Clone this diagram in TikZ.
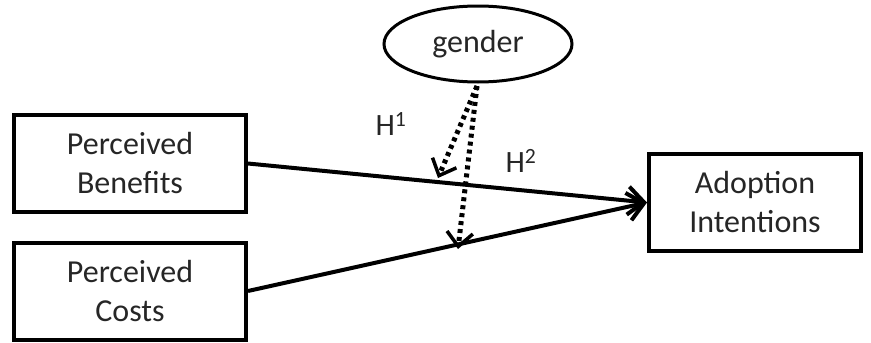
\documentclass[tikz,border=0pt]{standalone}
\usepackage{fontspec}
\setmainfont{Carlito}
\usetikzlibrary{arrows.meta,shapes.geometric}
\begin{document}
\begin{tikzpicture}[x=1pt,y=-1pt,
  box/.style={draw,line width=4pt,minimum width=232pt,minimum height=97pt,align=center,font=\fontsize{32}{39}\selectfont,inner sep=0pt,text=black!85},
  oval/.style={draw,line width=3pt,ellipse,minimum width=188pt,minimum height=76pt,inner sep=0pt,font=\fontsize{32}{38}\selectfont,text=black!85},
  main/.style={line width=4pt,-{Straight Barb[length=16pt,width=28pt,line width=4pt]}},
  mod/.style={line width=5pt,dash pattern=on 4pt off 4pt,-{Straight Barb[length=14pt,width=26pt,line width=3.5pt]}},
  lab/.style={font=\fontsize{31}{36}\selectfont,inner sep=0pt,text=black!85}]
\useasboundingbox (0,0) rectangle (871,343);
\node[box] (pb) at (130,163.5) {Perceived\\Benefits};
\node[box] (pc) at (130,291) {Perceived\\Costs};
\node[box,minimum width=212pt] (ai) at (755,202.5) {Adoption\\Intentions};
\node[oval] (g) at (478,44) {gender};
\coordinate (t1) at (438,178);
\coordinate (t2) at (458,249);
\coordinate (s) at (477,86);
\draw[main] (pb.east) -- (ai.west);
\draw[main] (pc.east) -- (ai.west);
\draw[mod] (s) -- (t1);
\draw[mod] (s) -- (t2);
\node[lab] (h1) at (391,124) {H\textsuperscript{1}};
\node[lab] (h2) at (521,161) {H\textsuperscript{2}};
\end{tikzpicture}
\end{document}
